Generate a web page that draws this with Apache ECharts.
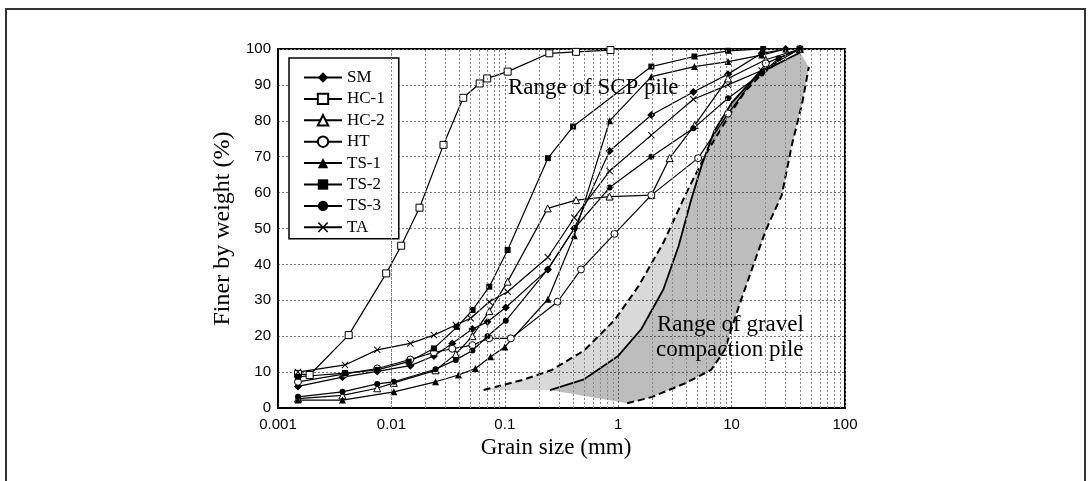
<!DOCTYPE html>
<html>
<head>
<meta charset="utf-8">
<script src="https://cdn.jsdelivr.net/npm/echarts@6/dist/echarts.min.js"></script>
<style>
  html, body { margin: 0; padding: 0; background: #fff; }
  #chart { width: 1090px; height: 481px; }
</style>
</head>
<body>
<div id="chart"></div>
<script>
// tick labels
const xTickLabels = ['0.001', '0.01', '0.1', '1', '10', '100']
const yTicks = [0, 10, 20, 30, 40, 50, 60, 70, 80, 90, 100]
const minorDecades = [0.001, 0.01, 0.1, 1, 10]
const minorSteps = [2, 3, 4, 5, 6, 7, 8, 9]

// grain size curves [mm, % finer]
const smData = [[0.0015, 6], [0.0037, 8.6], [0.0075, 10.2], [0.0147, 11.8], [0.0237, 14.5], [0.0344, 18], [0.0518, 22], [0.0703, 24], [0.102, 28], [0.24, 38.6], [0.41, 50], [0.84, 71.6], [1.96, 81.6], [4.6, 88], [9.3, 93], [18.4, 98.8], [30, 100]]
const hc1Data = [[0.0015, 9.5], [0.0019, 9.2], [0.0042, 20.3], [0.009, 37.5], [0.0122, 45.2], [0.0177, 55.8], [0.0288, 73.3], [0.043, 86.4], [0.06, 90.4], [0.07, 91.8], [0.106, 93.7], [0.247, 98.8], [0.425, 99.2], [0.855, 99.7]]
const hc2Data = [[0.0015, 2.6], [0.0037, 3.5], [0.0075, 5.5], [0.0105, 7], [0.0245, 10.5], [0.037, 15], [0.0518, 20], [0.073, 27], [0.106, 35.2], [0.239, 55.6], [0.425, 57.9], [0.838, 58.9], [1.96, 59.3], [2.84, 69.6], [4.73, 78.8], [9.3, 91.8], [20, 97], [40, 100]]
const htData = [[0.0015, 7.3], [0.0039, 9.5], [0.0075, 11], [0.0147, 13.5], [0.0237, 15.5], [0.0344, 16.5], [0.0518, 17.5], [0.0727, 19.4], [0.113, 19.4], [0.292, 29.6], [0.47, 38.6], [0.927, 48.5], [1.96, 59.3], [5.07, 69.6], [9.3, 82], [20, 96], [40, 100]]
const ts1Data = [[0.0015, 2.2], [0.0037, 2.2], [0.0105, 4.5], [0.0245, 7.3], [0.039, 9.2], [0.055, 11], [0.075, 14.3], [0.1, 17], [0.24, 30.3], [0.41, 48], [0.84, 80], [1.96, 92.3], [4.7, 95.1], [9.3, 96.5], [18.4, 98.3], [30, 100]]
const ts2Data = [[0.0015, 8.7], [0.0039, 9.7], [0.0075, 10.6], [0.0142, 12.9], [0.0237, 16.6], [0.038, 22.6], [0.052, 27.3], [0.073, 33.8], [0.106, 44], [0.24, 69.6], [0.4, 78.4], [1.96, 95.1], [4.7, 97.9], [9.3, 99.5], [19, 100]]
const ts3Data = [[0.0015, 3.1], [0.0037, 4.5], [0.0075, 6.7], [0.0105, 7.3], [0.0245, 10.8], [0.037, 13.4], [0.0518, 16], [0.0703, 20], [0.102, 24.3], [0.239, 38.6], [0.41, 50], [0.84, 61.4], [1.96, 70], [4.6, 77.9], [9.3, 86.3], [18.4, 93.2], [26, 97.4], [40, 100]]
const taData = [[0.0015, 10], [0.0039, 12], [0.0075, 16.2], [0.0147, 18], [0.0237, 20.3], [0.037, 23.1], [0.05, 25], [0.073, 29.6], [0.106, 32.4], [0.24, 42], [0.41, 53], [0.84, 66], [1.96, 76], [4.6, 86], [9.3, 90], [18.4, 94], [40, 100]]

// range boundaries
const leftDashed = [[0.065, 5], [0.15, 8], [0.26, 10.6], [0.5, 16], [0.93, 24.5], [1.5, 33.8], [2.5, 46], [4, 60], [6, 71], [9.3, 81], [13, 88], [18.4, 93], [25, 96]]
const solidLine = [[0.25, 5], [0.5, 8], [1, 14.5], [1.6, 22], [2.5, 33], [3.4, 45], [4.4, 58], [5.5, 68], [7, 77], [10, 85], [17, 93], [30, 97], [40, 99]]
const rightDashed = [[1.2, 1.3], [2, 3.1], [3.9, 6.9], [6.6, 10.6], [8.7, 16.2], [11.5, 28], [15, 38.4], [20, 49.5], [27.7, 59.3], [34, 73.3], [42, 85], [48, 95]]

const crossPath = 'path://M0,1L1,0L5,4L9,0L10,1L6,5L10,9L9,10L5,6L1,10L0,9L4,5Z'

const curves = [
  { name: 'SM', data: smData, symbol: 'diamond', open: false, size: 8 },
  { name: 'HC-1', data: hc1Data, symbol: 'rect', open: true, size: 7 },
  { name: 'HC-2', data: hc2Data, symbol: 'triangle', open: true, size: 7 },
  { name: 'HT', data: htData, symbol: 'circle', open: true, size: 7 },
  { name: 'TS-1', data: ts1Data, symbol: 'triangle', open: false, size: 7 },
  { name: 'TS-2', data: ts2Data, symbol: 'rect', open: false, size: 6 },
  { name: 'TS-3', data: ts3Data, symbol: 'circle', open: false, size: 6 },
  { name: 'TA', data: taData, symbol: crossPath, open: false, size: 7 }
]

const minorX = []
minorDecades.forEach(d => minorSteps.forEach(m => minorX.push(+(d * m).toPrecision(3))))

const lightPoly = leftDashed.concat(solidLine.slice().reverse())
const darkPoly = solidLine.concat(rightDashed.slice().reverse())

const serif = "'Liberation Serif', 'Times New Roman', serif"
const sans = "'Liberation Sans', Arial, sans-serif"

const chart = echarts.init(document.getElementById('chart'), null, { renderer: 'canvas' })

function polySeries(points, fill) {
  return {
    type: 'custom',
    silent: true,
    z: 1,
    data: [[1, 50]],
    renderItem: (params, api) => ({
      type: 'polygon',
      shape: { points: points.map(p => api.coord(p)) },
      style: { fill: fill, stroke: 'none' }
    })
  }
}

function boundarySeries(points, dashed, extra) {
  return Object.assign({
    type: 'line',
    data: points,
    symbol: 'none',
    silent: true,
    z: 2,
    lineStyle: { color: '#000', width: dashed ? 2 : 1.8, type: dashed ? [7, 4] : 'solid' }
  }, extra || {})
}

const option = {
  animation: false,
  backgroundColor: '#fff',
  grid: {
    left: 278,
    right: 245,
    top: 49,
    bottom: 73,
    show: true,
    borderColor: '#000',
    borderWidth: 2
  },
  legend: {
    orient: 'vertical',
    left: 289,
    top: 58,
    data: curves.map(c => c.name),
    itemWidth: 38,
    itemHeight: 13,
    itemGap: 4.4,
    padding: [11, 14, 3, 14],
    backgroundColor: '#fff',
    borderColor: '#000',
    borderWidth: 1.5,
    borderRadius: 0,
    selectedMode: false,
    textStyle: { fontFamily: serif, fontSize: 17, color: '#000' }
  },
  xAxis: {
    type: 'log',
    logBase: 10,
    min: 0.001,
    max: 100,
    name: 'Grain size (mm)',
    nameLocation: 'middle',
    nameGap: 25,
    nameTextStyle: { fontFamily: serif, fontSize: 23, color: '#000', padding: [0, 11, 0, 0] },
    axisLine: { show: true, lineStyle: { color: '#000', width: 2 } },
    axisTick: { show: false },
    axisLabel: {
      color: '#000',
      fontFamily: sans,
      fontSize: 15,
      margin: 9,
      formatter: v => xTickLabels[Math.round(Math.log10(v)) + 3]
    },
    splitLine: { show: true, lineStyle: { color: '#777', width: 1, type: [2, 2] } }
  },
  yAxis: {
    type: 'value',
    min: yTicks[0],
    max: yTicks[yTicks.length - 1],
    interval: 10,
    name: 'Finer by weight (%)',
    nameLocation: 'middle',
    nameGap: 41,
    nameTextStyle: { fontFamily: serif, fontSize: 24, color: '#000' },
    axisLine: { show: true, lineStyle: { color: '#000', width: 2 } },
    axisTick: { show: false },
    axisLabel: { color: '#000', fontFamily: sans, fontSize: 15, margin: 7 },
    splitLine: { show: true, lineStyle: { color: '#777', width: 1, type: [2, 2] } }
  },
  graphic: [
    {
      type: 'rect',
      silent: true,
      shape: { x: 6, y: 9, width: 1079, height: 490 },
      style: { fill: 'none', stroke: '#333', lineWidth: 2 }
    },
    {
      type: 'text', left: 508, top: 76, silent: true, z: 10,
      style: { text: 'Range of SCP pile', font: '23px ' + serif, fill: '#000' }
    },
    {
      type: 'text', left: 657, top: 313, silent: true, z: 10,
      style: { text: 'Range of gravel', font: '23px ' + serif, fill: '#000' }
    },
    {
      type: 'text', left: 656, top: 338, silent: true, z: 10,
      style: { text: 'compaction pile', font: '23px ' + serif, fill: '#000' }
    }
  ],
  series: [
    polySeries(lightPoly, 'rgba(0,0,0,0.15)'),
    polySeries(darkPoly, 'rgba(0,0,0,0.26)'),
    boundarySeries(leftDashed, true),
    boundarySeries(solidLine, false, {
      markLine: {
        silent: true,
        symbol: ['none', 'none'],
        label: { show: false },
        lineStyle: { color: '#888', width: 1, type: [2, 2] },
        emphasis: { disabled: true },
        data: minorX.map(v => ({ xAxis: v }))
      }
    }),
    boundarySeries(rightDashed, true)
  ].concat(curves.map(c => ({
    name: c.name,
    type: 'line',
    data: c.data,
    symbol: c.symbol,
    symbolSize: c.size,
    showAllSymbol: true,
    z: 3,
    lineStyle: { color: '#000', width: 1.2 },
    itemStyle: c.open
      ? { color: '#fff', borderColor: '#000', borderWidth: 1 }
      : { color: '#000', borderColor: '#000', borderWidth: 0 },
    emphasis: { disabled: true }
  })))
}

chart.setOption(option)
window.addEventListener('resize', () => chart.resize())
</script>
</body>
</html>
